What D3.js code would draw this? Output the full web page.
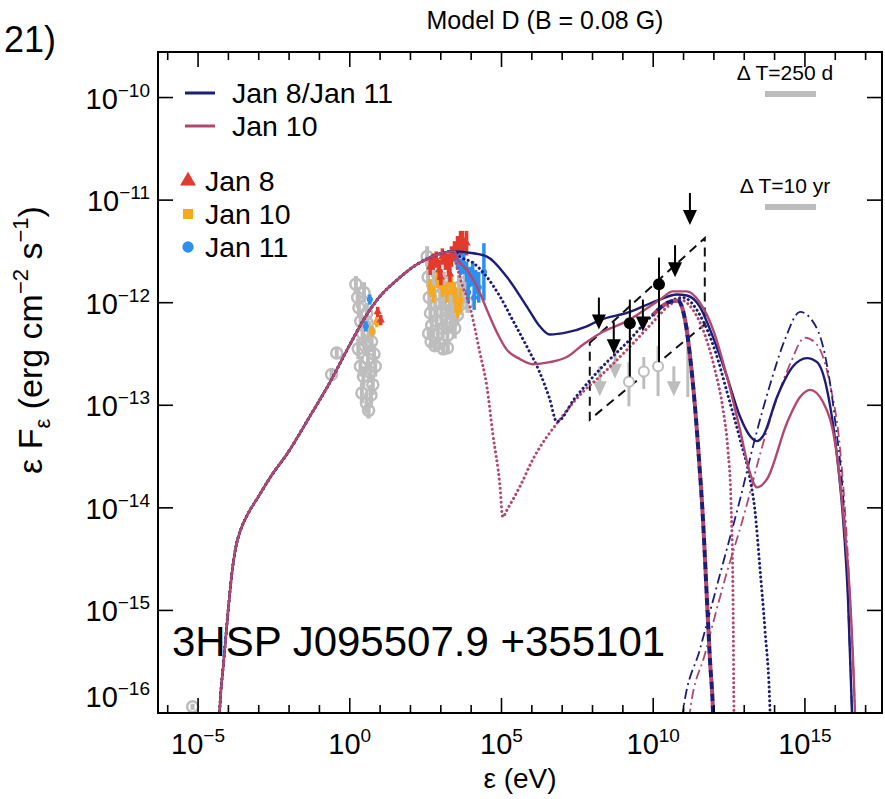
<!DOCTYPE html>
<html><head><meta charset="utf-8">
<script src="https://cdn.jsdelivr.net/npm/d3@7"></script>
<style>body{margin:0;background:#fff} svg{display:block;font-family:"Liberation Sans",Arial,Helvetica,sans-serif}</style>
</head><body><svg id="c" width="885" height="799"></svg>
<script>
// ---------- data (log10 eps [eV], log10 eps*F_eps [erg cm^-2 s^-1]) ----------
const title = "Model D (B = 0.08 G)";
const sourceName = "3HSP J095507.9 +355101";
const xTickExps = [-5, 0, 5, 10, 15];
const yTickExps = [-10, -11, -12, -13, -14, -15, -16];

// shared low-energy synchrotron branch
const syncRise = [[-4.38,-16.7],[-4.29,-15.99],[-4.15,-15.48],[-4.02,-15.04],[-3.89,-14.65],[-3.76,-14.39],[-3.59,-14.21],[-3.36,-14.06],[-3.03,-13.90],[-2.57,-13.68],[-2.08,-13.48],[-1.32,-13.11],[-0.66,-12.78],[0.0,-12.41],[0.49,-12.15],[0.99,-11.94],[1.55,-11.78],[2.14,-11.64],[2.64,-11.56],[3.13,-11.51],[3.46,-11.50]];
// Jan 8 / Jan 11 model (blue)
const blueTotal = [[3.86,-11.51],[4.52,-11.55],[5.18,-11.75],[5.84,-12.04],[6.26,-12.23],[6.59,-12.31],[7.15,-12.29],[7.81,-12.23],[8.24,-12.17],[9.13,-12.10],[10.22,-11.97],[10.78,-11.92],[11.11,-11.93],[11.54,-12.04],[11.87,-12.26],[12.43,-12.72],[12.86,-13.11],[13.19,-13.30],[13.42,-13.35],[13.62,-13.30],[14.08,-12.92],[14.61,-12.62],[15.07,-12.54],[15.40,-12.58],[15.73,-12.85],[16.06,-13.50],[16.25,-14.08],[16.42,-14.89],[16.55,-15.99],[16.62,-16.64]];
const blueLepto = [[3.63,-11.55],[4.06,-11.61],[4.52,-11.75],[4.95,-11.94],[5.37,-12.17],[5.84,-12.43],[6.26,-12.68],[6.59,-12.94],[6.82,-13.16],[7.42,-12.93],[8.24,-12.65],[9.13,-12.39],[9.99,-12.12],[10.55,-11.99],[10.98,-11.95],[11.54,-12.12],[12.03,-12.46],[12.46,-12.90],[12.86,-13.33],[13.19,-13.72],[13.35,-14.02],[13.52,-14.60],[13.68,-15.18],[13.85,-15.99],[13.91,-16.64]];
const blueHadro = [[10.85,-16.64],[10.98,-15.99],[11.54,-15.38],[12.20,-14.65],[12.86,-13.92],[13.35,-13.33],[13.85,-12.80],[14.34,-12.36],[14.84,-12.09],[15.23,-12.17],[15.66,-12.51],[15.99,-13.14],[16.32,-14.21],[16.55,-15.99],[16.62,-16.64]];
// Jan 10 model (pink)
const pinkTotal = [[3.53,-11.56],[3.86,-11.68],[4.19,-11.84],[4.52,-12.07],[4.85,-12.29],[5.18,-12.46],[5.61,-12.55],[6.03,-12.60],[6.59,-12.58],[7.15,-12.53],[7.68,-12.41],[8.24,-12.30],[9.13,-12.18],[10.22,-11.97],[10.65,-11.89],[11.11,-11.89],[11.54,-12.00],[11.97,-12.26],[12.43,-12.72],[12.86,-13.24],[13.19,-13.66],[13.42,-13.80],[13.75,-13.72],[14.41,-13.17],[14.84,-12.92],[15.17,-12.85],[15.60,-12.97],[16.06,-13.50],[16.25,-14.02],[16.49,-14.89],[16.65,-15.99],[16.72,-16.64]];
const pinkLepto = [[3.46,-11.52],[3.63,-11.75],[3.96,-12.04],[4.29,-12.49],[4.52,-12.82],[4.71,-13.27],[4.95,-13.79],[5.04,-14.09],[5.18,-14.02],[5.61,-13.79],[6.03,-13.53],[6.92,-13.14],[7.68,-12.87],[8.24,-12.72],[9.13,-12.46],[9.99,-12.19],[10.55,-12.02],[10.88,-11.97],[11.31,-12.07],[11.70,-12.31],[12.03,-12.65],[12.30,-13.04],[12.46,-13.43],[12.56,-13.92],[12.63,-14.89],[12.66,-15.99],[12.69,-16.64]];
const pinkHadro = [[11.08,-16.64],[11.21,-15.99],[11.70,-15.43],[12.36,-14.70],[13.02,-14.04],[13.52,-13.48],[14.01,-12.99],[14.51,-12.60],[15.00,-12.34],[15.40,-12.41],[15.83,-12.80],[16.16,-13.43],[16.42,-14.50],[16.65,-15.99],[16.72,-16.64]];
// absorbed (dashed, both epochs overlap)
const absorbed = [[9.99,-12.12],[10.48,-12.00],[10.81,-11.98],[11.05,-12.17],[11.21,-12.51],[11.37,-12.99],[11.51,-13.53],[11.64,-14.11],[11.77,-14.89],[11.87,-15.48],[11.97,-15.99],[12.03,-16.64]];

// observations: [logE, logF, err]
const greyOptical = [[0.20,-11.82,0.08],[0.26,-11.95,0.10],[0.30,-12.05,0.10],[0.36,-12.18,0.10],[0.42,-12.30,0.12],[0.47,-11.90,0.10],[0.50,-12.42,0.10],[0.56,-12.10,0.10],[0.60,-12.55,0.12],[0.64,-12.28,0.10],[0.68,-12.68,0.10],[0.72,-12.38,0.10],[0.76,-12.80,0.10],[0.80,-12.50,0.10],[0.84,-12.62,0.10],[0.40,-12.88,0.10],[0.55,-12.98,0.10],[0.62,-13.05,0.08],[0.35,-12.62,0.10],[0.28,-12.45,0.10],[0.45,-12.72,0.10],[0.70,-12.90,0.10],[0.58,-12.20,0.08],[-0.43,-12.49,0.05],[-0.60,-12.70,0.05],[-5.18,-15.94,0.03]];
const greyXray = [[2.55,-11.55,0.10],[2.58,-11.75,0.10],[2.62,-11.95,0.12],[2.66,-12.10,0.10],[2.70,-12.22,0.10],[2.74,-11.65,0.10],[2.78,-11.85,0.12],[2.82,-12.02,0.10],[2.86,-12.18,0.10],[2.90,-12.30,0.10],[2.94,-11.75,0.10],[2.98,-11.92,0.12],[3.02,-12.08,0.10],[3.06,-12.25,0.10],[3.10,-11.80,0.10],[3.14,-11.98,0.10],[3.18,-12.15,0.12],[3.22,-12.32,0.10],[3.26,-11.85,0.10],[3.30,-12.02,0.12],[3.34,-12.20,0.10],[3.38,-11.90,0.10],[3.42,-12.08,0.10],[3.46,-12.25,0.10],[3.50,-11.95,0.10],[3.55,-12.12,0.10],[3.60,-11.85,0.12],[3.65,-12.02,0.10],[3.72,-11.92,0.10],[3.80,-11.80,0.10],[3.88,-12.00,0.10],[2.68,-12.38,0.05],[2.80,-12.42,0.05],[2.95,-12.40,0.05],[3.08,-12.45,0.05],[3.22,-12.44,0.05],[2.60,-12.30,0.06]];
const jan8Obs = [[0.92,-12.09,0.05],[1.02,-12.17,0.05],[2.65,-11.65,0.08],[2.75,-11.60,0.08],[2.85,-11.58,0.08],[2.95,-11.68,0.10],[3.05,-11.55,0.08],[3.15,-11.60,0.08],[3.25,-11.62,0.10],[3.35,-11.55,0.10],[3.45,-11.50,0.10],[3.55,-11.45,0.10],[3.65,-11.42,0.12],[3.75,-11.48,0.10],[3.85,-11.42,0.12],[3.00,-11.75,0.08],[3.30,-11.72,0.08],[3.72,-11.38,0.08]];
const jan10Obs = [[0.73,-12.28,0.05],[0.89,-12.19,0.05],[2.65,-11.85,0.08],[2.75,-11.92,0.08],[2.90,-11.78,0.08],[3.05,-11.85,0.10],[3.20,-11.90,0.10],[3.35,-11.82,0.10],[3.45,-11.90,0.10],[3.50,-11.98,0.12],[3.55,-12.05,0.10],[3.65,-11.98,0.12]];
const jan11Obs = [[0.66,-11.97,0.05],[0.53,-12.23,0.05],[3.55,-11.60,0.08],[3.65,-11.65,0.08],[3.75,-11.62,0.10],[3.85,-11.70,0.10],[3.95,-11.75,0.10],[4.05,-11.72,0.12],[4.15,-11.80,0.12],[4.25,-11.85,0.15],[4.42,-11.70,0.28],[3.90,-11.90,0.10],[4.10,-11.95,0.12]];
// Fermi-LAT
const latUL = [[8.21,-11.95],[8.70,-12.19],[9.66,-11.97],[10.72,-11.44],[11.21,-10.93]];
const latPts = [[9.23,-12.20,-11.97,-12.72],[10.19,-11.82,-11.56,-12.58]];
const latGreyUL = [[8.24,-12.62],[8.74,-12.45],[10.68,-12.62]];
const latGreyPts = [[9.20,-12.77,-12.58,-13.01],[9.69,-12.67,-12.53,-12.84],[10.16,-12.62,-12.42,-12.91]];
const latGreyBar = [[11.14,-12.23,-12.92]];
const bowtie = [[7.91,-12.39],[11.70,-11.37],[11.70,-12.21],[7.91,-13.14]];

const modelLegend = ["Jan 8/Jan 11", "Jan 10"];
const obsLegend = ["Jan 8", "Jan 10", "Jan 11"];
const dtLabels = ["\u0394 T=250 d", "\u0394 T=10 yr"];

// ---------- drawing ----------
const BLUE = "#1d1d78", PINK = "#b3486f", RED = "#e23b2e", ORANGE = "#f6a91e", LBLUE = "#2d8ff0", GREY = "#bdbdbd";
const svg = d3.select("#c");
const L = 158, R = 882, T = 52, B = 713;
const x = d3.scaleLog().domain([Math.pow(10,-6.32), Math.pow(10,17.54)]).range([L, R]);
const y = d3.scaleLog().domain([1e-16, Math.pow(10,-9.556)]).range([B, T]);
const X = e => x(Math.pow(10, e)), Y = f => y(Math.pow(10, f));

svg.append("defs").append("clipPath").attr("id","clip").append("rect")
  .attr("x", L).attr("y", T).attr("width", R-L).attr("height", B-T);
const plot = svg.append("g").attr("clip-path","url(#clip)");

const line = d3.line().x(d => X(d[0])).y(d => Y(d[1])).curve(d3.curveMonotoneX);

// bow-tie
plot.append("path").attr("d", d3.line().x(d=>X(d[0])).y(d=>Y(d[1]))(bowtie) + "Z")
  .attr("fill","none").attr("stroke","#111").attr("stroke-width",2).attr("stroke-dasharray","9 6");

function errBars(g, data, color, w) {
  g.selectAll(null).data(data).enter().append("line")
    .attr("x1", d=>X(d[0])).attr("x2", d=>X(d[0]))
    .attr("y1", d=>Y(d[1]+d[2])).attr("y2", d=>Y(d[1]-d[2]))
    .attr("stroke", color).attr("stroke-width", w);
}
// grey archival data
const gGrey = plot.append("g");
errBars(gGrey, greyOptical, GREY, 4);
errBars(gGrey, greyXray, GREY, 4);
gGrey.selectAll(null).data(greyOptical.concat(greyXray)).enter().append("circle")
  .attr("cx", d=>X(d[0])).attr("cy", d=>Y(d[1])).attr("r", 5.5)
  .attr("fill","none").attr("stroke", GREY).attr("stroke-width", 2.5);

// grey LAT
const gLatG = plot.append("g");
gLatG.selectAll(null).data(latGreyPts).enter().append("line")
  .attr("x1", d=>X(d[0])).attr("x2", d=>X(d[0])).attr("y1", d=>Y(d[2])).attr("y2", d=>Y(d[3]))
  .attr("stroke", GREY).attr("stroke-width", 3);
gLatG.selectAll(null).data(latGreyPts).enter().append("circle")
  .attr("cx", d=>X(d[0])).attr("cy", d=>Y(d[1])).attr("r", 5)
  .attr("fill","#fff").attr("stroke", GREY).attr("stroke-width", 2);
gLatG.selectAll(null).data(latGreyBar).enter().append("line")
  .attr("x1", d=>X(d[0])).attr("x2", d=>X(d[0])).attr("y1", d=>Y(d[1])).attr("y2", d=>Y(d[2]))
  .attr("stroke", GREY).attr("stroke-width", 3);
function arrows(g, data, color, len, w) {
  const a = g.selectAll(null).data(data).enter().append("g")
    .attr("transform", d => `translate(${X(d[0])},${Y(d[1])})`);
  a.append("line").attr("x1",0).attr("x2",0).attr("y1",0).attr("y2",len-8).attr("stroke",color).attr("stroke-width",w);
  a.append("path").attr("d", `M-7,${len-15}L7,${len-15}L0,${len}Z`).attr("fill", color);
}
arrows(gLatG, latGreyUL, GREY, 30, 3);

// observed colored data
function obs(data, color, shape) {
  const g = plot.append("g");
  errBars(g, data, color, 3.5);
  const sym = d3.symbol().type(shape).size(30);
  g.selectAll(null).data(data).enter().append("path")
    .attr("d", sym).attr("transform", d=>`translate(${X(d[0])},${Y(d[1])})`).attr("fill", color);
}
obs(jan10Obs, ORANGE, d3.symbolSquare);
obs(jan8Obs, RED, d3.symbolTriangle);
obs(jan11Obs, LBLUE, d3.symbolCircle);

// model curves
const hadro = plot.append("g").attr("fill","none").attr("stroke-width",1.8).attr("stroke-dasharray","10 4 2 4");
hadro.append("path").attr("d", line(pinkHadro)).attr("stroke", PINK);
hadro.append("path").attr("d", line(blueHadro)).attr("stroke", BLUE);

const dots = plot.append("g").attr("fill","none").attr("stroke-width",3).attr("stroke-linecap","round").attr("stroke-dasharray","0.1 4.5");
dots.append("path").attr("d", line(syncRise.concat(pinkLepto))).attr("stroke", PINK);
dots.append("path").attr("d", line(syncRise.concat(blueLepto))).attr("stroke", BLUE);

const dash = plot.append("g").attr("fill","none").attr("stroke-width",4);
dash.append("path").attr("d", line(absorbed)).attr("stroke", PINK).attr("stroke-dasharray","7 5");
dash.append("path").attr("d", line(absorbed)).attr("stroke", BLUE).attr("stroke-dasharray","7 5").attr("stroke-dashoffset", 6);

const sol = plot.append("g").attr("fill","none").attr("stroke-width",2.4);
sol.append("path").attr("d", line(syncRise.concat(blueTotal))).attr("stroke", BLUE);
sol.append("path").attr("d", line(syncRise.concat(pinkTotal))).attr("stroke", PINK);

// black LAT
const gLat = plot.append("g");
gLat.selectAll(null).data(latPts).enter().append("line")
  .attr("x1", d=>X(d[0])).attr("x2", d=>X(d[0])).attr("y1", d=>Y(d[2])).attr("y2", d=>Y(d[3]))
  .attr("stroke", "#000").attr("stroke-width", 2);
gLat.selectAll(null).data(latPts).enter().append("circle")
  .attr("cx", d=>X(d[0])).attr("cy", d=>Y(d[1])).attr("r", 6).attr("fill","#000");
arrows(gLat, latUL, "#000", 32, 2);

// frame & ticks
svg.append("rect").attr("x",L).attr("y",T).attr("width",R-L).attr("height",B-T)
  .attr("fill","none").attr("stroke","#000").attr("stroke-width",2);
const ax = svg.append("g").attr("stroke","#000").attr("stroke-width",1.6);
for (let e = -6; e <= 17; e++) {
  const len = xTickExps.includes(e) ? 15 : 8;
  ax.append("line").attr("x1",X(e)).attr("x2",X(e)).attr("y1",B).attr("y2",B-len);
  ax.append("line").attr("x1",X(e)).attr("x2",X(e)).attr("y1",T).attr("y2",T+len);
}
yTickExps.forEach(e => {
  ax.append("line").attr("x1",L).attr("x2",L+15).attr("y1",Y(e)).attr("y2",Y(e));
  ax.append("line").attr("x1",R).attr("x2",R-15).attr("y1",Y(e)).attr("y2",Y(e));
});

const fmt = e => String(e).replace("-", "\u2212");
xTickExps.forEach(e => {
  const t = svg.append("text").attr("x", X(e)).attr("y", 754).attr("text-anchor","middle")
    .attr("font-size", 29).attr("fill","#000");
  t.append("tspan").text("10");
  t.append("tspan").attr("dy", -12).attr("font-size", 19).text(fmt(e));
});
yTickExps.forEach(e => {
  const yy = e === -16 ? Y(e) - 6 : Y(e) + 11;
  const t = svg.append("text").attr("x", 150).attr("y", yy).attr("text-anchor","end")
    .attr("font-size", 29).attr("fill","#000");
  t.append("tspan").text("10");
  t.append("tspan").attr("dy", -12).attr("font-size", 19).text(fmt(e));
});

// titles
svg.append("text").attr("x", 545).attr("y", 29).attr("text-anchor","middle").attr("font-size", 25).text(title);
svg.append("text").attr("x", 56).attr("y", 52).attr("text-anchor","end").attr("font-size", 36).text("21)");
svg.append("text").attr("x", 520).attr("y", 788).attr("text-anchor","middle").attr("font-size", 28).text("\u03B5 (eV)");
const yl = svg.append("text").attr("transform","translate(42,340) rotate(-90)").attr("text-anchor","middle").attr("font-size", 34);
yl.append("tspan").text("\u03B5 F");
yl.append("tspan").attr("dy", 8).attr("font-size", 22).text("\u03B5");
yl.append("tspan").attr("dy", -8).text(" (erg cm");
yl.append("tspan").attr("dy", -14).attr("font-size", 22).text("\u22122");
yl.append("tspan").attr("dy", 14).text(" s");
yl.append("tspan").attr("dy", -14).attr("font-size", 22).text("\u22121");
yl.append("tspan").attr("dy", 14).text(")");
svg.append("text").attr("x", 172).attr("y", 656).attr("font-size", 42).text(sourceName);

// legend: models
modelLegend.forEach((s, i) => {
  const yy = 93 + i * 33;
  svg.append("line").attr("x1",185).attr("x2",215).attr("y1",yy).attr("y2",yy)
    .attr("stroke", i === 0 ? BLUE : PINK).attr("stroke-width", 3);
  svg.append("text").attr("x", 232).attr("y", yy + 10).attr("font-size", 28.5).text(s);
});
// legend: observations
const obsCol = [RED, ORANGE, LBLUE];
const obsSym = [d3.symbolTriangle, d3.symbolSquare, d3.symbolCircle];
obsLegend.forEach((s, i) => {
  const yy = 181 + i * 33;
  svg.append("path").attr("d", d3.symbol().type(obsSym[i]).size(i===0?110:100)())
    .attr("transform", `translate(188,${yy})`).attr("fill", obsCol[i]);
  svg.append("text").attr("x", 205).attr("y", yy + 10).attr("font-size", 28.5).text(s);
});

// Delta T bars
dtLabels.forEach((s, i) => {
  const yy = i === 0 ? 80 : 193;
  svg.append("text").attr("x", 785).attr("y", yy).attr("text-anchor","middle").attr("font-size", 21).text(s);
  svg.append("rect").attr("x", 765).attr("y", yy + 11).attr("width", 51).attr("height", 6).attr("fill", GREY);
});
</script></body></html>
